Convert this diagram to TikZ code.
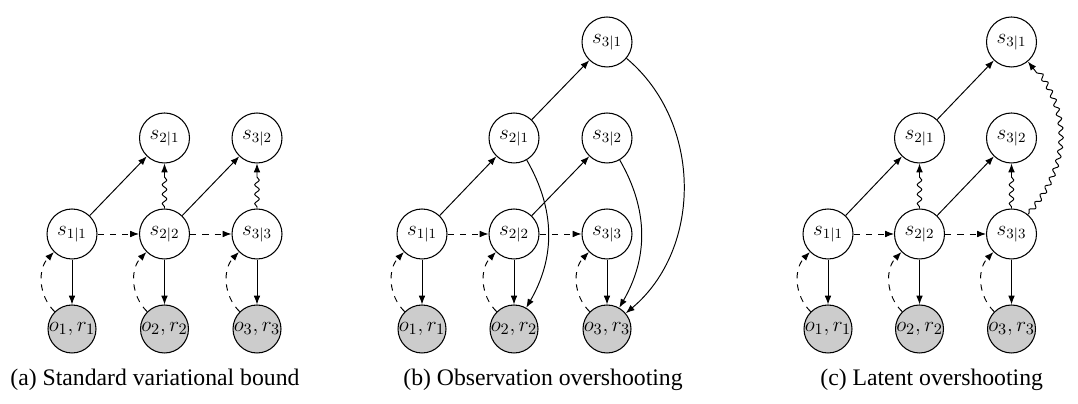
\documentclass[tikz,border=0pt]{standalone}
\usepackage{fontspec}
\setmainfont{Liberation Serif}
\usetikzlibrary{arrows.meta,decorations.pathmorphing}
\begin{document}
\begin{tikzpicture}[x=0.02cm,y=0.02cm,
  st/.style={circle,draw,line width=0.6pt,minimum size=1cm,inner sep=0pt,font=\fontsize{12}{14}\selectfont},
  obs/.style={circle,draw,fill=black!20,line width=0.6pt,minimum size=0.96cm,inner sep=0pt,font=\fontsize{12.5}{14}\selectfont},
  arr/.style={-{Latex[length=5pt,width=3.8pt]},line width=0.55pt},
  dsh/.style={arr,dash pattern=on 3.6pt off 3.4pt},
  wig/.style={arr,decorate,decoration={snake,amplitude=1.3pt,segment length=5.4pt,pre length=1pt,post length=7pt}},
  captext/.style={anchor=base west,font=\fontsize{13.5}{16}\selectfont,inner sep=0pt}]
\useasboundingbox (0,0) rectangle (1078,404);
% ---------- panel (a)
\node[st]  (a11) at (72,170)    {$s_{1|1}$};
\node[st]  (a22) at (164.5,170) {$s_{2|2}$};
\node[st]  (a33) at (257,170)   {$s_{3|3}$};
\node[st]  (a21) at (164.5,266) {$s_{2|1}$};
\node[st]  (a32) at (257,266)   {$s_{3|2}$};
\node[obs] (ao1) at (72,75)     {\makebox[0pt]{$o_1,r_1$}};
\node[obs] (ao2) at (164.5,75)  {\makebox[0pt]{$o_2,r_2$}};
\node[obs] (ao3) at (257,75)    {\makebox[0pt]{$o_3,r_3$}};
\draw[arr] (a11) -- (a21);
\draw[arr] (a22) -- (a32);
\draw[dsh] (a11) -- (a22);
\draw[dsh] (a22) -- (a33);
\draw[wig] (a22) -- (a21);
\draw[wig] (a33) -- (a32);
\foreach \i in {1,2,3}{
  \draw[arr] (a\i\i) -- (ao\i);
  \draw[dsh] (ao\i) to[bend left=45] (a\i\i);
}
\node[captext] (capa) at (10,18) {(a) Standard variational bound};
% ---------- panel (b)
\node[st]  (b11) at (422,170) {$s_{1|1}$};
\node[st]  (b22) at (514,170) {$s_{2|2}$};
\node[st]  (b33) at (607,170) {$s_{3|3}$};
\node[st]  (b21) at (514,266) {$s_{2|1}$};
\node[st]  (b32) at (607,266) {$s_{3|2}$};
\node[st]  (b31) at (607,362) {$s_{3|1}$};
\node[obs] (bo1) at (422,75)  {\makebox[0pt]{$o_1,r_1$}};
\node[obs] (bo2) at (514,75)  {\makebox[0pt]{$o_2,r_2$}};
\node[obs] (bo3) at (607,75)  {\makebox[0pt]{$o_3,r_3$}};
\draw[arr] (b11) -- (b21);
\draw[arr] (b21) -- (b31);
\draw[arr] (b22) -- (b32);
\draw[dsh] (b11) -- (b22);
\draw[dsh] (b22) -- (b33);
\foreach \i in {1,2,3}{
  \draw[arr] (b\i\i) -- (bo\i);
  \draw[dsh] (bo\i) to[bend left=45] (b\i\i);
}
\draw[arr] (b21) to[out=-60,in=60] (bo2);
\draw[arr] (b32) to[out=-60,in=60] (bo3);
\draw[arr] (b31) to[out=-40,in=40] (bo3);
\node[captext] (capb) at (403,18) {(b) Observation overshooting};
% ---------- panel (c)
\node[st]  (c11) at (828,170)    {$s_{1|1}$};
\node[st]  (c22) at (919.5,170)  {$s_{2|2}$};
\node[st]  (c33) at (1011.5,170) {$s_{3|3}$};
\node[st]  (c21) at (919.5,266)  {$s_{2|1}$};
\node[st]  (c32) at (1011.5,266) {$s_{3|2}$};
\node[st]  (c31) at (1011.5,362) {$s_{3|1}$};
\node[obs] (co1) at (828,75)     {\makebox[0pt]{$o_1,r_1$}};
\node[obs] (co2) at (919.5,75)   {\makebox[0pt]{$o_2,r_2$}};
\node[obs] (co3) at (1011.5,75)  {\makebox[0pt]{$o_3,r_3$}};
\draw[arr] (c11) -- (c21);
\draw[arr] (c21) -- (c31);
\draw[arr] (c22) -- (c32);
\draw[dsh] (c11) -- (c22);
\draw[dsh] (c22) -- (c33);
\draw[wig] (c22) -- (c21);
\draw[wig] (c33) -- (c32);
\draw[wig] (c33) to[out=50,in=-50,looseness=1.1] (c31);
\foreach \i in {1,2,3}{
  \draw[arr] (c\i\i) -- (co\i);
  \draw[dsh] (co\i) to[bend left=45] (c\i\i);
}
\node[captext] (capc) at (820,18) {(c) Latent overshooting};
\end{tikzpicture}
\end{document}
